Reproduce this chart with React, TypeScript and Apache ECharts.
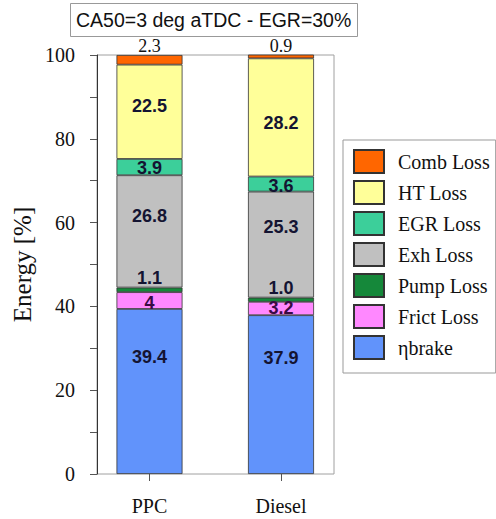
import React, { useEffect, useRef } from "react";
import * as echarts from "echarts";

// Engine energy balance, CA50 = 3 deg aTDC, EGR = 30 %
const categories = ["PPC", "Diesel"];
const seriesNames = ["ηbrake", "Frict Loss", "Pump Loss", "Exh Loss", "EGR Loss", "HT Loss", "Comb Loss"];
// values as printed on the bars (bottom to top)
const brake = ["39.4", "37.9"];
const frict = ["4", "3.2"];
const pump = ["1.1", "1.0"];
const exh = ["26.8", "25.3"];
const egr = ["3.9", "3.6"];
const ht = ["22.5", "28.2"];
const comb = ["2.3", "0.9"];
const yTicks = [0, 20, 40, 60, 80, 100];

const stackValues = [brake, frict, pump, exh, egr, ht, comb];
const colors = ["#6193fb", "#ff88ff", "#15883a", "#c0c0c0", "#3ccf9a", "#ffff99", "#ff6600"];

// vertical nudge of the in-bar labels, per series and per bar
const labelShift: Record<string, number[]> = {
  "ηbrake": [-34, -37],
  "Frict Loss": [2, 0],
  "Exh Loss": [-15, -18],
  "EGR Loss": [1, 2],
  "HT Loss": [-6, 6],
};

const SERIF = "'Liberation Serif', 'Times New Roman', serif";
const SANS = "'Liberation Sans', Arial, sans-serif";

export default function App() {
  const ref = useRef<HTMLDivElement>(null);

  useEffect(() => {
    if (!ref.current) return;
    const chart = echarts.init(ref.current, undefined, { renderer: "svg" });

    const series = seriesNames.map((name, si) => {
      const raw = stackValues[si];
      const isPump = name === "Pump Loss";
      const isComb = name === "Comb Loss";
      const label: any = isComb
        ? {
            show: true,
            position: "top",
            distance: 0,
            fontFamily: SERIF,
            fontSize: 18,
            color: "#111",
          }
        : isPump
        ? {
            show: true,
            position: "top",
            distance: 1,
            fontFamily: SANS,
            fontWeight: "bold",
            fontSize: 18,
            color: "#141432",
          }
        : {
            show: true,
            position: "inside",
            fontFamily: SANS,
            fontWeight: "bold",
            fontSize: 18,
            color: name === "Frict Loss" ? "#3a0a44" : "#141432",
          };
      return {
        name,
        type: "bar",
        stack: "energy",
        xAxisIndex: 0,
        yAxisIndex: 0,
        barWidth: 66,
        itemStyle: { color: colors[si], borderColor: "#333", borderWidth: 0.8 },
        label: { ...label, formatter: (p: any) => raw[p.dataIndex] },
        data: raw.map((s, i) => {
          const shift = labelShift[name];
          return shift
            ? { value: Number(s), label: { offset: [0, shift[i]] } }
            : { value: Number(s) };
        }),
      };
    });

    chart.setOption({
      animation: false,
      backgroundColor: "#fff",
      title: {
        text: "CA50=3 deg aTDC - EGR=30%",
        left: 70,
        top: 3,
        padding: [7, 6],
        borderColor: "#999",
        borderWidth: 1,
        textStyle: { fontFamily: SANS, fontSize: 19.5, fontWeight: "normal", color: "#111" },
      },
      legend: {
        orient: "vertical",
        left: 343,
        top: 140,
        data: [...seriesNames].reverse(),
        icon: "rect",
        itemWidth: 30,
        itemHeight: 23,
        itemGap: 6,
        padding: [9, 6, 13, 10],
        borderColor: "#999",
        borderWidth: 1,
        textStyle: {
          fontFamily: SERIF,
          fontSize: 20,
          lineHeight: 23,
          color: "#111",
          padding: [0, 0, 0, 9],
        },
      },
      grid: [
        { left: 83.75, width: 263, top: 55, height: 419 },
        { left: 97, width: 237, top: 55, height: 419, show: true, borderColor: "#a0a0a0", borderWidth: 1 },
      ],
      xAxis: [
        {
          type: "category",
          gridIndex: 0,
          data: categories,
          axisLine: { show: false },
          axisTick: { show: true, alignWithLabel: true, length: 7, lineStyle: { color: "#555" } },
          axisLabel: { margin: 22, fontFamily: SERIF, fontSize: 20, color: "#111" },
        },
        { type: "value", gridIndex: 1, show: false, min: 0, max: 1 },
      ],
      yAxis: [
        { type: "value", gridIndex: 0, min: 0, max: 100, show: false },
        {
          type: "value",
          gridIndex: 1,
          min: yTicks[0],
          max: yTicks[yTicks.length - 1],
          interval: 20,
          name: "Energy [%]",
          nameLocation: "middle",
          nameRotate: 90,
          nameGap: 62,
          nameTextStyle: { fontFamily: SERIF, fontSize: 25, color: "#111" },
          axisLine: { show: true, lineStyle: { color: "#333", width: 1 } },
          axisTick: { show: true, length: 7, lineStyle: { color: "#555" } },
          minorTick: { show: true, splitNumber: 2, length: 7, lineStyle: { color: "#555" } },
          splitLine: { show: false },
          axisLabel: { margin: 22, fontFamily: SERIF, fontSize: 20, color: "#111" },
        },
      ],
      series,
    });

    return () => chart.dispose();
  }, []);

  return (
    <div
      ref={ref}
      style={{ position: "fixed", left: 0, top: 0, width: 496, height: 519 }}
    />
  );
}
